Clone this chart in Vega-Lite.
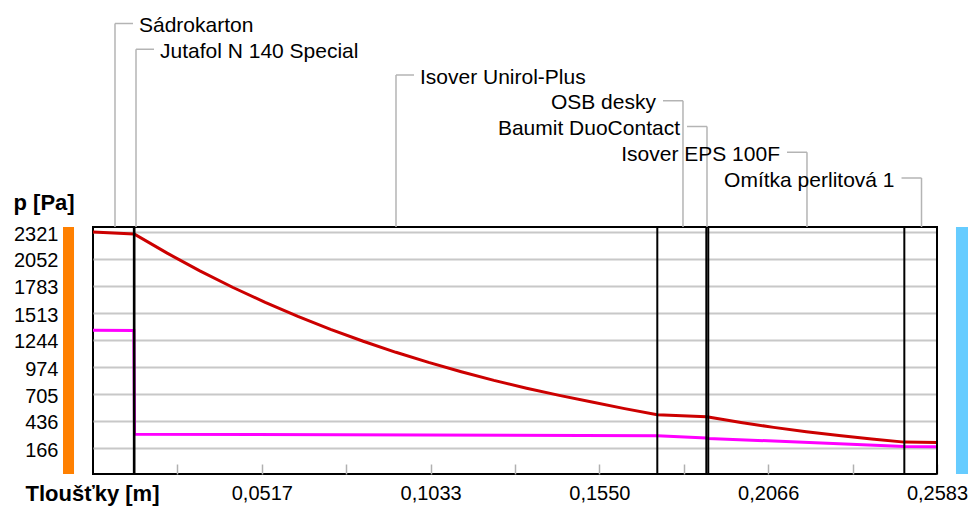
{
  "$schema": "https://vega.github.io/schema/vega-lite/v6.json",
  "width": 844,
  "height": 247,
  "autosize": {"type": "none"},
  "padding": {"left": 93, "top": 227, "right": 35, "bottom": 32},
  "background": "white",
  "config": {"font": "Liberation Sans", "view": {"stroke": "black", "strokeWidth": 2}},
  "datasets": {
    "sides": [
      {"side": "interiér", "x0": -0.00918, "x1": -0.00581},
      {"side": "exteriér", "x0": 0.26411, "x1": 0.26779}
    ],
    "layers": [
      {"name": "Sádrokarton", "order": 1, "start": 0, "end": 0.0125, "anchor": 0.00673, "side": "L"},
      {"name": "Jutafol N 140 Special", "order": 2, "start": 0.0125, "end": 0.0127, "anchor": 0.01316, "side": "L"},
      {"name": "Isover Unirol-Plus", "order": 3, "start": 0.0127, "end": 0.1727, "anchor": 0.09273, "side": "L"},
      {"name": "OSB desky", "order": 4, "start": 0.1727, "end": 0.1877, "anchor": 0.18056, "side": "R"},
      {"name": "Baumit DuoContact", "order": 5, "start": 0.1877, "end": 0.1883, "anchor": 0.18791, "side": "R"},
      {"name": "Isover EPS 100F", "order": 6, "start": 0.1883, "end": 0.2483, "anchor": 0.21851, "side": "R"},
      {"name": "Omítka perlitová 1", "order": 7, "start": 0.2483, "end": 0.2583, "anchor": 0.25356, "side": "R"}
    ],
    "curves": [
      {"series": "p_sat", "x": 0, "p": 2321},
      {"series": "p_sat", "x": 0.0125, "p": 2302},
      {"series": "p_sat", "x": 0.0127, "p": 2300},
      {"series": "p_sat", "x": 0.0227, "p": 2110},
      {"series": "p_sat", "x": 0.0327, "p": 1934},
      {"series": "p_sat", "x": 0.0427, "p": 1770},
      {"series": "p_sat", "x": 0.0527, "p": 1619},
      {"series": "p_sat", "x": 0.0627, "p": 1479},
      {"series": "p_sat", "x": 0.0727, "p": 1350},
      {"series": "p_sat", "x": 0.0827, "p": 1231},
      {"series": "p_sat", "x": 0.0927, "p": 1121},
      {"series": "p_sat", "x": 0.1027, "p": 1020},
      {"series": "p_sat", "x": 0.1127, "p": 927},
      {"series": "p_sat", "x": 0.1227, "p": 841},
      {"series": "p_sat", "x": 0.1327, "p": 763},
      {"series": "p_sat", "x": 0.1427, "p": 691},
      {"series": "p_sat", "x": 0.1527, "p": 625},
      {"series": "p_sat", "x": 0.1627, "p": 559},
      {"series": "p_sat", "x": 0.1727, "p": 498},
      {"series": "p_sat", "x": 0.1877, "p": 478},
      {"series": "p_sat", "x": 0.1883, "p": 476},
      {"series": "p_sat", "x": 0.1983, "p": 421},
      {"series": "p_sat", "x": 0.2083, "p": 372},
      {"series": "p_sat", "x": 0.2183, "p": 329},
      {"series": "p_sat", "x": 0.2283, "p": 290},
      {"series": "p_sat", "x": 0.2383, "p": 256},
      {"series": "p_sat", "x": 0.2483, "p": 225},
      {"series": "p_sat", "x": 0.2583, "p": 221},
      {"series": "p", "x": 0, "p": 1340},
      {"series": "p", "x": 0.0125, "p": 1338},
      {"series": "p", "x": 0.0127, "p": 304},
      {"series": "p", "x": 0.1727, "p": 289},
      {"series": "p", "x": 0.1877, "p": 266},
      {"series": "p", "x": 0.1883, "p": 262},
      {"series": "p", "x": 0.2483, "p": 182},
      {"series": "p", "x": 0.2583, "p": 178}
    ]
  },
  "layer": [
    {
      "layer": [
        {
          "data": {"name": "sides"},
          "mark": {"type": "rect"},
          "encoding": {
            "x": {"field": "x0", "type": "quantitative"},
            "x2": {"field": "x1"},
            "color": {"field": "side", "type": "nominal", "legend": null,
              "scale": {"domain": ["interiér", "exteriér", "p_sat", "p"], "range": ["#ff8000", "#66ccff", "#cc0000", "#ff00ff"]}}
          }
        },
        {
          "data": {"name": "curves"},
          "mark": {"type": "line", "strokeWidth": 3},
          "encoding": {
            "x": {"field": "x", "type": "quantitative",
              "scale": {"domain": [0, 0.2583], "nice": false, "zero": false},
              "axis": {
                "values": [0.02583, 0.05166, 0.07749, 0.10332, 0.12915, 0.15498, 0.18081, 0.20664, 0.23247, 0.2583],
                "labelExpr": "indexof([0.05166, 0.10332, 0.15498, 0.20664, 0.2583], datum.value) >= 0 ? replace(format(datum.value, '.4f'), '.', ',') : ''",
                "domain": false, "grid": false, "ticks": true, "tickSize": -10, "tickColor": "#b0b0b0", "tickWidth": 1.5,
                "labelFontSize": 20, "labelColor": "black", "labelPadding": 19, "labelFlush": false, "labelOverlap": false,
                "title": "Tloušťky [m]", "titleX": -68, "titleY": 26, "titleAlign": "left", "titleBaseline": "alphabetic",
                "titleFontSize": 22, "titleFontWeight": "bold", "titleColor": "black"
              }},
            "y": {"field": "p", "type": "quantitative",
              "scale": {"domain": [-93, 2371], "nice": false, "zero": false},
              "axis": {
                "values": [166, 436, 705, 974, 1244, 1513, 1783, 2052, 2321], "format": "d",
                "grid": true, "gridColor": "#c8c8c8", "gridWidth": 2, "domain": false, "ticks": false,
                "labelPadding": 35, "labelFontSize": 20, "labelColor": "black", "labelBaseline": "middle", "labelOffset": 2,
                "labelFlush": false, "labelOverlap": false,
                "title": "p [Pa]", "titleAngle": 0, "titleX": -80, "titleY": -18, "titleAlign": "left", "titleBaseline": "alphabetic",
                "titleFontSize": 22, "titleFontWeight": "bold", "titleColor": "black"
              }},
            "color": {"field": "series", "type": "nominal", "legend": null,
              "scale": {"domain": ["interiér", "exteriér", "p_sat", "p"], "range": ["#ff8000", "#66ccff", "#cc0000", "#ff00ff"]}}
          }
        },
        {
          "data": {"name": "layers"},
          "mark": {"type": "rule", "color": "black", "strokeWidth": 2},
          "encoding": {
            "x": {"field": "end", "type": "quantitative"}
          }
        }
      ]
    },
    {
      "data": {"name": "layers"},
      "layer": [
        {
          "mark": {"type": "rule", "color": "#b4b4b4", "strokeWidth": 1.5},
          "encoding": {
            "x": {"field": "anchor", "type": "quantitative"},
            "y": {"field": "order", "type": "quantitative", "axis": null,
              "scale": {"domain": [1, 7], "range": [-203.5, -49], "nice": false, "zero": false}},
            "y2": {"datum": 8.903}
          }
        },
        {
          "transform": [{"filter": "datum.side == 'L'"}],
          "mark": {"type": "rule", "color": "#b4b4b4", "strokeWidth": 1.5, "x2Offset": 18},
          "encoding": {
            "x": {"field": "anchor", "type": "quantitative"},
            "x2": {"field": "anchor"},
            "y": {"field": "order", "type": "quantitative", "axis": null}
          }
        },
        {
          "transform": [{"filter": "datum.side == 'R'"}],
          "mark": {"type": "rule", "color": "#b4b4b4", "strokeWidth": 1.5, "x2Offset": -20},
          "encoding": {
            "x": {"field": "anchor", "type": "quantitative"},
            "x2": {"field": "anchor"},
            "y": {"field": "order", "type": "quantitative", "axis": null}
          }
        },
        {
          "transform": [{"filter": "datum.side == 'L'"}],
          "mark": {"type": "text", "align": "left", "baseline": "alphabetic", "dx": 24, "dy": 8.5, "fontSize": 21, "font": "Liberation Sans", "color": "black"},
          "encoding": {
            "x": {"field": "anchor", "type": "quantitative"},
            "y": {"field": "order", "type": "quantitative", "axis": null},
            "text": {"field": "name"}
          }
        },
        {
          "transform": [{"filter": "datum.side == 'R'"}],
          "mark": {"type": "text", "align": "right", "baseline": "alphabetic", "dx": -27, "dy": 8.5, "fontSize": 21, "font": "Liberation Sans", "color": "black"},
          "encoding": {
            "x": {"field": "anchor", "type": "quantitative"},
            "y": {"field": "order", "type": "quantitative", "axis": null},
            "text": {"field": "name"}
          }
        }
      ]
    }
  ],
  "resolve": {"scale": {"y": "independent"}}
}
